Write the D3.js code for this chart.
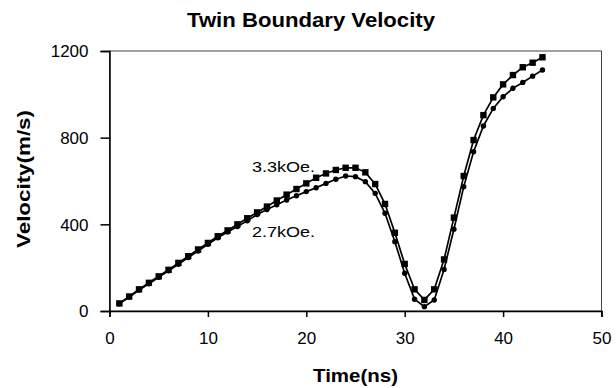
<!DOCTYPE html>
<html>
<head>
<meta charset="utf-8">
<script src="https://cdn.jsdelivr.net/npm/d3@7"></script>
<style>
    body { margin: 0; background: #fff; }
    text { font-family: Arial, "Liberation Sans", sans-serif; fill: #000; }
</style>
</head>
<body>
<svg id="chart" width="616" height="388"></svg>
<script>
// time in ns
var times = d3.range(1, 45);

// Velocity (m/s)
var v33 = [35, 67, 100, 130, 160, 190, 222, 253, 284, 314, 345, 372, 400, 428, 455,
    482, 510, 537, 563, 589, 615, 635, 651, 661, 661, 640, 586, 494, 361, 217,
    100, 51, 100, 238, 431, 623, 789, 904, 986, 1046, 1089, 1125, 1146, 1171];
var v27 = [33, 64, 97, 126, 156, 186, 216, 247, 277, 308, 338, 365, 390, 416, 445,
    468, 490, 512, 532, 551, 569, 589, 608, 623, 620, 597, 543, 451, 320, 174,
    54, 20, 51, 192, 377, 574, 735, 854, 935, 989, 1028, 1055, 1084, 1112];

var xTicks = [0, 10, 20, 30, 40, 50];
var yTicks = [0, 400, 800, 1200];

var svg = d3.select("#chart");
var plotLeft = 109.5, plotRight = 601.5, plotTop = 51, plotBottom = 311;

var x = d3.scaleLinear().domain([0, 50]).range([plotLeft, plotRight]);
var y = d3.scaleLinear().domain([0, 1200]).range([plotBottom, plotTop]);

// plot area border
svg.append("rect")
    .attr("x", plotLeft).attr("y", plotTop)
    .attr("width", plotRight - plotLeft).attr("height", plotBottom - plotTop)
    .attr("fill", "none")
    .attr("stroke", "#444")
    .attr("stroke-width", 1);

// axes
var xAxis = svg.append("g")
    .attr("transform", "translate(0," + plotBottom + ")")
    .call(d3.axisBottom(x).tickValues(xTicks).tickSize(6).tickPadding(15));
var yAxis = svg.append("g")
    .attr("transform", "translate(" + plotLeft + ",0)")
    .call(d3.axisLeft(y).tickValues(yTicks).tickFormat(d3.format("d")).tickSize(9).tickPadding(12));

[xAxis, yAxis].forEach(function (a) {
    a.select(".domain").attr("stroke", "#000").attr("stroke-width", 1.5);
    a.selectAll(".tick line").attr("stroke", "#000").attr("stroke-width", 1.5);
    a.selectAll(".tick text")
        .attr("font-size", 17)
        .attr("font-family", "Arial, 'Liberation Sans', sans-serif")
        .attr("fill", "#000");
});
yAxis.selectAll(".tick text").attr("dy", "0.35em");

var line = d3.line()
    .x(function (d) { return x(d[0]); })
    .y(function (d) { return y(d[1]); });

function series(values, marker) {
    var pts = times.map(function (t, i) { return [t, values[i]]; });
    var g = svg.append("g");
    g.append("path")
        .datum(pts)
        .attr("d", line)
        .attr("fill", "none")
        .attr("stroke", "#000")
        .attr("stroke-width", 1.7);
    if (marker == "square") {
        g.selectAll("rect")
            .data(pts)
            .enter().append("rect")
            .attr("x", function (d) { return x(d[0]) - 3.2; })
            .attr("y", function (d) { return y(d[1]) - 3.2; })
            .attr("width", 6.4).attr("height", 6.4)
            .attr("fill", "#000");
    } else {
        g.selectAll("circle")
            .data(pts)
            .enter().append("circle")
            .attr("cx", function (d) { return x(d[0]); })
            .attr("cy", function (d) { return y(d[1]); })
            .attr("r", 2.7)
            .attr("fill", "#000");
    }
}

series(v27, "circle");
series(v33, "square");

// series labels
svg.append("text")
    .attr("x", 252).attr("y", 172)
    .attr("font-size", 15)
    .attr("textLength", 63).attr("lengthAdjust", "spacingAndGlyphs")
    .text("3.3kOe.");
svg.append("text")
    .attr("x", 252).attr("y", 237)
    .attr("font-size", 15)
    .attr("textLength", 63).attr("lengthAdjust", "spacingAndGlyphs")
    .text("2.7kOe.");

// titles
svg.append("text")
    .attr("x", 311).attr("y", 27)
    .attr("text-anchor", "middle")
    .attr("font-size", 20).attr("font-weight", "bold")
    .attr("textLength", 248).attr("lengthAdjust", "spacingAndGlyphs")
    .text("Twin Boundary Velocity");

svg.append("text")
    .attr("x", (plotLeft + plotRight) / 2).attr("y", 382)
    .attr("text-anchor", "middle")
    .attr("font-size", 19).attr("font-weight", "bold")
    .attr("textLength", 85).attr("lengthAdjust", "spacingAndGlyphs")
    .text("Time(ns)");

svg.append("text")
    .attr("transform", "translate(30," + ((plotTop + plotBottom) / 2 - 2) + ")rotate(-90)")
    .attr("text-anchor", "middle")
    .attr("font-size", 19).attr("font-weight", "bold")
    .attr("textLength", 138).attr("lengthAdjust", "spacingAndGlyphs")
    .text("Velocity(m/s)");
</script>
</body>
</html>
